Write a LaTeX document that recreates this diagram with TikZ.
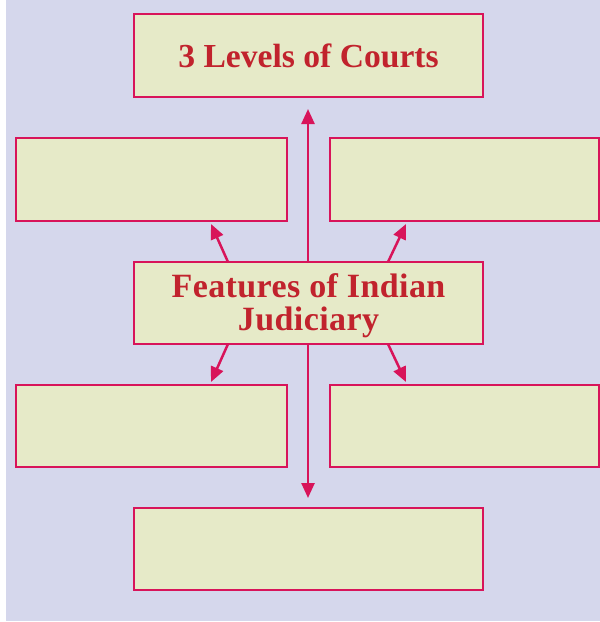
\documentclass[tikz,border=0pt]{standalone}
\usepackage{fontspec}
\setmainfont{Liberation Serif}
\usetikzlibrary{arrows.meta}
\definecolor{bgc}{HTML}{D5D7EC}
\definecolor{boxfill}{HTML}{E6EAC8}
\definecolor{edgec}{HTML}{D8145A}
\definecolor{txtc}{HTML}{C1232D}
\tikzset{
  fbox/.style={draw=edgec, line width=2.8pt, fill=boxfill, inner sep=0pt, minimum height=83pt},
  widebox/.style={fbox, minimum width=349pt},
  sidebox/.style={fbox, minimum width=271pt},
  ttl/.style={font=\bfseries\fontsize{33.6}{31}\selectfont, text=txtc, align=center},
  midttl/.style={font=\bfseries\fontsize{34}{33}\selectfont, text=txtc, align=center},
  conn/.style={draw=edgec, line width=2.5pt, -{Triangle[length=15pt,width=13pt]}},
}
\begin{document}
\begin{tikzpicture}[x=1pt,y=-1pt]
\useasboundingbox (0,0) rectangle (600,622);
\fill[bgc] (6,0) rectangle (600,621);
\node[widebox, ttl] (top) at (308.5,55.5) {3 Levels of Courts};
\node[sidebox] (ul) at (151.5,179.5) {};
\node[sidebox, minimum width=269pt] (ur) at (464.5,179.5) {};
\node[widebox, minimum height=82pt] (mid) at (308.5,303) {};
\node[midttl] (midtxt) at (308.5,306) {\addfontfeatures{LetterSpace=1.2}Features of Indian\\\addfontfeatures{LetterSpace=1.2}Judiciary};
\node[sidebox, minimum height=82pt] (ll) at (151.5,426) {};
\node[sidebox, minimum width=269pt, minimum height=82pt] (lr) at (464.5,426) {};
\node[widebox, minimum height=82pt] (bot) at (308.5,549) {};
\coordinate (tupv) at (308,109);
\coordinate (tdnv) at (308,498);
\coordinate (sul) at (228,262);
\coordinate (tul) at (211,224);
\coordinate (sur) at (388,262);
\coordinate (tur) at (406,224);
\coordinate (sll) at (228,344);
\coordinate (tll) at (211,382);
\coordinate (slr) at (388,344);
\coordinate (tlr) at (406,382);
\draw[conn] (mid.north -| tupv) -- (tupv);
\draw[conn] (mid.south -| tdnv) -- (tdnv);
\draw[conn] (sul) -- (tul);
\draw[conn] (sur) -- (tur);
\draw[conn] (sll) -- (tll);
\draw[conn] (slr) -- (tlr);
\end{tikzpicture}
\end{document}
